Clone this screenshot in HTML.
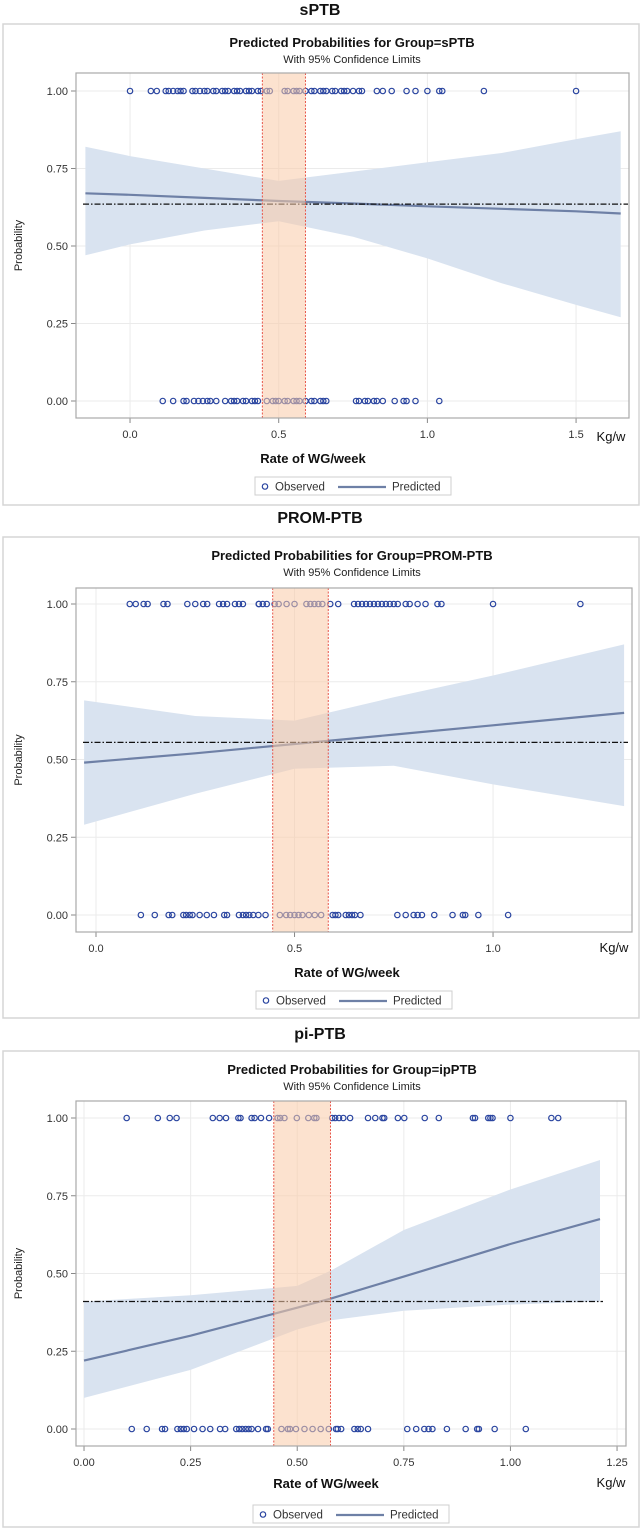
<!DOCTYPE html>
<html><head><meta charset="utf-8"><style>
html,body{margin:0;padding:0;background:#fff;}
svg{display:block;font-family:"Liberation Sans",sans-serif;}
</style></head><body>
<svg id="chart" width="642" height="1530" viewBox="0 0 642 1530" xmlns="http://www.w3.org/2000/svg"></svg>
<script>
// ---------- data ----------
const yTicks = [0, 0.25, 0.5, 0.75, 1];
const yTickLabels = ["0.00","0.25","0.50","0.75","1.00"];

const p1XTicks = [0, 0.5, 1.0, 1.5];
const p1XTickLabels = ["0.0","0.5","1.0","1.5"];
const p1Obs1 = [0.0,0.07,0.09,0.12,0.13,0.145,0.16,0.17,0.18,0.21,0.22,0.235,0.25,0.26,0.28,0.29,0.31,0.32,0.33,0.35,0.36,0.37,0.39,0.40,0.41,0.43,0.44,0.46,0.47,0.52,0.53,0.55,0.56,0.57,0.59,0.61,0.62,0.64,0.65,0.66,0.68,0.69,0.71,0.72,0.73,0.75,0.77,0.78,0.83,0.85,0.88,0.93,0.96,1.0,1.04,1.05,1.19,1.5];
const p1Obs0 = [0.11,0.145,0.18,0.19,0.215,0.23,0.245,0.26,0.27,0.29,0.32,0.34,0.35,0.36,0.38,0.39,0.41,0.42,0.43,0.46,0.48,0.49,0.50,0.52,0.53,0.55,0.56,0.57,0.59,0.61,0.62,0.64,0.65,0.66,0.76,0.77,0.79,0.80,0.82,0.83,0.85,0.89,0.92,0.93,0.96,1.04];
const p1CurveX = [-0.15,0.0,0.25,0.5,0.75,1.0,1.25,1.5,1.65];
const p1Pred = [0.67,0.665,0.655,0.645,0.637,0.628,0.62,0.612,0.605];
const p1Lower = [0.47,0.505,0.55,0.58,0.53,0.46,0.38,0.31,0.27];
const p1Upper = [0.82,0.79,0.75,0.71,0.74,0.77,0.80,0.845,0.87];
const p1Band = [0.445, 0.59];
const p1Ref = [0.635];

const p2XTicks = [0, 0.5, 1.0];
const p2XTickLabels = ["0.0","0.5","1.0"];
const p2Obs1 = [0.085,0.10,0.12,0.13,0.17,0.18,0.23,0.25,0.27,0.28,0.31,0.32,0.33,0.35,0.36,0.37,0.41,0.41,0.42,0.43,0.45,0.46,0.48,0.50,0.53,0.54,0.55,0.56,0.57,0.59,0.61,0.65,0.66,0.67,0.68,0.69,0.70,0.71,0.72,0.73,0.74,0.75,0.76,0.78,0.79,0.81,0.83,0.86,0.87,1.0,1.22];
const p2Obs0 = [0.113,0.148,0.183,0.192,0.22,0.227,0.236,0.243,0.261,0.279,0.297,0.323,0.33,0.36,0.37,0.378,0.386,0.396,0.409,0.427,0.463,0.479,0.489,0.5,0.51,0.52,0.536,0.551,0.567,0.596,0.603,0.61,0.629,0.637,0.645,0.652,0.666,0.759,0.78,0.8,0.81,0.821,0.852,0.898,0.924,0.93,0.963,1.038];
const p2CurveX = [-0.03,0.25,0.5,0.75,1.0,1.33];
const p2Pred = [0.49,0.52,0.55,0.58,0.61,0.65];
const p2Lower = [0.29,0.39,0.47,0.48,0.42,0.35];
const p2Upper = [0.69,0.64,0.625,0.70,0.77,0.87];
const p2Band = [0.445, 0.585];
const p2Ref = [0.555];

const p3XTicks = [0, 0.25, 0.5, 0.75, 1.0, 1.25];
const p3XTickLabels = ["0.00","0.25","0.50","0.75","1.00","1.25"];
const p3Obs1 = [0.10,0.173,0.201,0.217,0.302,0.318,0.333,0.362,0.367,0.393,0.400,0.415,0.434,0.454,0.460,0.470,0.499,0.526,0.540,0.545,0.582,0.589,0.598,0.608,0.624,0.666,0.683,0.700,0.704,0.736,0.751,0.799,0.832,0.912,0.917,0.948,0.953,0.958,1.0,1.096,1.112];
const p3Obs0 = [0.112,0.147,0.183,0.19,0.219,0.227,0.234,0.241,0.258,0.278,0.296,0.319,0.331,0.357,0.364,0.371,0.379,0.386,0.393,0.408,0.427,0.431,0.463,0.478,0.483,0.497,0.517,0.536,0.555,0.574,0.591,0.595,0.603,0.634,0.642,0.649,0.666,0.758,0.779,0.798,0.808,0.817,0.851,0.895,0.922,0.926,0.963,1.036];
const p3CurveX = [0,0.25,0.5,0.58,0.75,1.0,1.21];
const p3Pred = [0.22,0.30,0.39,0.42,0.49,0.595,0.675];
const p3Lower = [0.10,0.19,0.32,0.35,0.38,0.40,0.41];
const p3Upper = [0.41,0.43,0.46,0.51,0.64,0.77,0.865];
const p3Band = [0.445, 0.578];
const p3Ref = [0.41];

// ---------- rendering ----------
const NS = "http://www.w3.org/2000/svg";
const svg = document.getElementById("chart");
function mk(tag, attrs, parent, text) {
  const e = document.createElementNS(NS, tag);
  for (const k in attrs) e.setAttribute(k, attrs[k]);
  if (text !== undefined) e.textContent = text;
  (parent || svg).appendChild(e);
  return e;
}

function drawPanel(o) {
  const g = mk("g", {});
  
  
  const xs = v => o.px0 + (v - o.xmin) / (o.xmax - o.xmin) * (o.px1 - o.px0);
  const ys = v => o.y0 + (o.y1 - o.y0) * v;

  const t = mk("text", {x: 320, y: o.top + 15, "text-anchor": "middle", "font-size": 16, "font-weight": "bold", fill: "#111"}, g, o.name);
  
  
  const box = mk("rect", {x: 3, y: o.boxTop, width: 636, height: o.boxBot - o.boxTop, fill: "#fff", stroke: "#d6d6d6", "stroke-width": 1.5}, g);
  
  
  const ct = mk("text", {x: 352, y: o.boxTop + 23, "text-anchor": "middle", "font-size": 13, "font-weight": "bold", fill: "#111"}, g, o.title);
  
  
  const st = mk("text", {x: 352, y: o.boxTop + 39, "text-anchor": "middle", "font-size": 11, fill: "#222"}, g, "With 95% Confidence Limits");
  
  

  yTicks.forEach((v, i) => {
    const gl = mk("line", {x1: o.px0, x2: o.px1, y1: ys(v), y2: ys(v), stroke: "#ebebeb", "stroke-width": 1}, g);
    
    
    const tk = mk("line", {x1: o.px0 - 5, x2: o.px0, y1: ys(v), y2: ys(v), stroke: "#888"}, g);
    
    
    const tl = mk("text", {x: o.px0 - 8, y: ys(v) + 4, "text-anchor": "end", "font-size": 11, fill: "#333"}, g, yTickLabels[i]);
    
    
  });
  o.xTicks.forEach((v, i) => {
    const gl = mk("line", {x1: xs(v), x2: xs(v), y1: o.ftop, y2: o.fbot, stroke: "#ebebeb", "stroke-width": 1}, g);
    
    
    const tk = mk("line", {x1: xs(v), x2: xs(v), y1: o.fbot, y2: o.fbot + 5, stroke: "#888"}, g);
    
    
    const tl = mk("text", {x: xs(v), y: o.fbot + 20, "text-anchor": "middle", "font-size": 11, fill: "#333"}, g, o.xTickLabels[i]);
    
    
  });

  let d = "";
  o.cx.forEach((v, i) => { d += (i ? "L" : "M") + xs(v).toFixed(1) + "," + ys(o.up[i]).toFixed(1); });
  for (let i = o.cx.length - 1; i >= 0; i--) d += "L" + xs(o.cx[i]).toFixed(1) + "," + ys(o.lo[i]).toFixed(1);
  const ci = mk("path", {d: d + "Z", fill: "#d9e3f0"}, g);
  
  

  [[o.obs1, 1], [o.obs0, 0]].forEach(([arr, yv]) => {
    arr.forEach(v => {
      const c = mk("circle", {cx: xs(v), cy: ys(yv), r: 2.7, fill: "none", stroke: "#2a45a0", "stroke-width": 1.2}, g);
      
      
    });
  });

  let pd = "";
  o.cx.forEach((v, i) => { pd += (i ? "L" : "M") + xs(v).toFixed(1) + "," + ys(o.pred[i]).toFixed(1); });
  const pl = mk("path", {d: pd, fill: "none", stroke: "#6e80a6", "stroke-width": 2.2}, g);
  
  

  const rl = mk("line", {x1: o.px0 + 7, x2: o.refEnd, y1: ys(o.ref[0]), y2: ys(o.ref[0]), stroke: "#111", "stroke-width": 1.2, "stroke-dasharray": "6,2,1.5,2"}, g);
  
  

  const hb = mk("rect", {x: xs(o.band[0]), y: o.ftop, width: xs(o.band[1]) - xs(o.band[0]), height: o.fbot - o.ftop, fill: "#f9cba8", opacity: 0.55}, g);
  
  
  o.band.forEach(v => {
    const bl = mk("line", {x1: xs(v), x2: xs(v), y1: o.ftop, y2: o.fbot, stroke: "#e8564a", "stroke-width": 1, "stroke-dasharray": "2,1.5"}, g);
    
    
  });

  const fr = mk("rect", {x: o.px0, y: o.ftop, width: o.px1 - o.px0, height: o.fbot - o.ftop, fill: "none", stroke: "#a9a9a9", "stroke-width": 1.2}, g);
  
  

  const yt = mk("text", {x: 0, y: 0, "text-anchor": "middle", "font-size": 11, fill: "#222", transform: "translate(22," + ((o.ftop + o.fbot) / 2) + ") rotate(-90)"}, g, "Probability");
  
  
  const xt = mk("text", {x: o.xtX, y: o.xtY, "text-anchor": "middle", "font-size": 13, "font-weight": "bold", fill: "#111"}, g, "Rate of WG/week");
  
  
  const ku = mk("text", {x: o.kgX, y: o.kgY, "text-anchor": "middle", "font-size": 13, fill: "#111"}, g, "Kg/w");
  
  

  const lg = mk("g", {}, g);
  
  
  mk("rect", {x: o.lgX, y: o.lgY, width: 196, height: 18, fill: "#fff", stroke: "#cfcfcf"}, lg);
  const e1 = mk("circle", {cx: o.lgX + 10, cy: o.lgY + 9.5, r: 2.7, fill: "none", stroke: "#2a45a0", "stroke-width": 1.2}, lg);
  
  
  const t1 = mk("text", {x: o.lgX + 20, y: o.lgY + 13.5, "font-size": 11.5, fill: "#333"}, lg, "Observed");
  
  
  const e2 = mk("line", {x1: o.lgX + 83, x2: o.lgX + 131, y1: o.lgY + 10, y2: o.lgY + 10, stroke: "#6e80a6", "stroke-width": 2.2}, lg);
  
  
  const t2 = mk("text", {x: o.lgX + 137, y: o.lgY + 13.5, "font-size": 11.5, fill: "#333"}, lg, "Predicted");
  
  
}

drawPanel({id: "sptb", name: "sPTB", title: "Predicted Probabilities for Group=sPTB",
  top: 0, boxTop: 24, boxBot: 505, px0: 76, px1: 629, xmin: -0.1817, xmax: 1.678,
  ftop: 73, fbot: 418, y0: 401, y1: 91, xTicks: p1XTicks, xTickLabels: p1XTickLabels,
  obs1: p1Obs1, obs0: p1Obs0, cx: p1CurveX, pred: p1Pred, lo: p1Lower, up: p1Upper,
  band: p1Band, ref: p1Ref, refEnd: 628, xtX: 313, xtY: 463, kgX: 611, kgY: 441, lgX: 255, lgY: 477});

drawPanel({id: "prom-ptb", name: "PROM-PTB", title: "Predicted Probabilities for Group=PROM-PTB",
  top: 508, boxTop: 537, boxBot: 1018, px0: 76, px1: 632, xmin: -0.0504, xmax: 1.35,
  ftop: 588, fbot: 932, y0: 915, y1: 604, xTicks: p2XTicks, xTickLabels: p2XTickLabels,
  obs1: p2Obs1, obs0: p2Obs0, cx: p2CurveX, pred: p2Pred, lo: p2Lower, up: p2Upper,
  band: p2Band, ref: p2Ref, refEnd: 628, xtX: 347, xtY: 977, kgX: 614, kgY: 952, lgX: 256, lgY: 991});

drawPanel({id: "pi-ptb", name: "pi-PTB", title: "Predicted Probabilities for Group=ipPTB",
  top: 1024, boxTop: 1051, boxBot: 1527, px0: 76, px1: 626, xmin: -0.0188, xmax: 1.271,
  ftop: 1101, fbot: 1446, y0: 1429, y1: 1118, xTicks: p3XTicks, xTickLabels: p3XTickLabels,
  obs1: p3Obs1, obs0: p3Obs0, cx: p3CurveX, pred: p3Pred, lo: p3Lower, up: p3Upper,
  band: p3Band, ref: p3Ref, refEnd: 603, xtX: 326, xtY: 1488, kgX: 611, kgY: 1487, lgX: 253, lgY: 1505});
</script>
</body></html>
